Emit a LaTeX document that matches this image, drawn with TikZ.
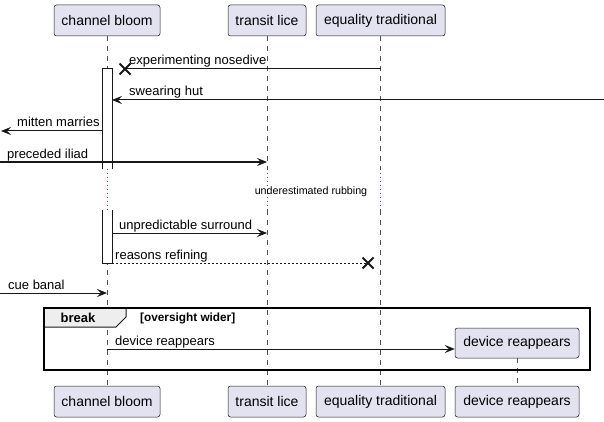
\documentclass[tikz,border=0pt]{standalone}
\usepackage{fontspec}
\setmainfont{Liberation Sans}
\usetikzlibrary{arrows.meta}
\definecolor{pfill}{HTML}{E2E2F0}
\definecolor{pline}{HTML}{181818}
\definecolor{delayc}{HTML}{9B1B50}
\definecolor{tabc}{HTML}{EEEEEE}
\tikzset{
  part/.style={draw=pline, fill=pfill, line width=0.5pt, rounded corners=2.5pt,
    minimum height=31pt, inner xsep=0pt, font=\fontsize{14}{16}\selectfont},
  life/.style={draw=pline!75, line width=0.5pt, dash pattern=on 5pt off 5pt},
  delayl/.style={draw=delayc, line width=1pt, dash pattern=on 1pt off 3pt},
  msg/.style={draw=pline, line width=1pt, -{Stealth[length=10pt,width=8pt,inset=4pt]}},
  plainmsg/.style={draw=pline, line width=1pt},
  lbl/.style={font=\fontsize{13}{15}\selectfont, anchor=base west, inner sep=0pt},
  act/.style={draw=pline, fill=white, line width=1pt},
  xmark/.style={draw=pline, line width=2pt},
}
\begin{document}
\begin{tikzpicture}[x=1pt, y=-1pt]
\useasboundingbox (0,0) rectangle (604,422);
% participants
\node[part, minimum width=106pt] (cbT) at (107,20.5) {channel bloom};
\node[part, minimum width=78pt] (tlT) at (267,20.5) {transit lice};
\node[part, minimum width=129pt] (eqT) at (380.5,20.5) {equality traditional};
\node[part, minimum width=106pt] (cbB) at (107,401.5) {channel bloom};
\node[part, minimum width=78pt] (tlB) at (267,401.5) {transit lice};
\node[part, minimum width=129pt] (eqB) at (380.5,401.5) {equality traditional};
\node[part, minimum width=124pt] (dvB) at (517,401.5) {device reappears};
% delay coordinates
\coordinate (cbd1) at (107,169); \coordinate (cbd2) at (107,210);
\coordinate (tld1) at (267,169); \coordinate (tld2) at (267,210);
\coordinate (eqd1) at (380.5,169); \coordinate (eqd2) at (380.5,210);
% lifelines
\draw[life] (cbT.south) -- (cbd1);
\draw[delayl] (cbd1) -- (cbd2);
\draw[life] (cbd2) -- (cbB.north);
\draw[life] (tlT.south) -- (tld1);
\draw[delayl] (tld1) -- (tld2);
\draw[life] (tld2) -- (tlB.north);
\draw[life] (eqT.south) -- (eqd1);
\draw[delayl] (eqd1) -- (eqd2);
\draw[life] (eqd2) -- (eqB.north);
% activation
\fill[white] (102,69) rectangle (112,169);
\draw[act] (102,169) -- (102,69) -- (112,69) -- (112,169);
\fill[white] (102,210) rectangle (112,263);
\draw[act] (102,210) -- (102,263) -- (112,263) -- (112,210);
% message 1
\coordinate (m1s) at (380.5,69); \coordinate (m1e) at (125,69);
\draw[plainmsg] (m1s) -- (m1e);
\draw[xmark] (m1e) +(-5.5,-5.5) -- +(5.5,5.5) (m1e) +(-5.5,5.5) -- +(5.5,-5.5);
\node[lbl] (l1) at (129,65) {experimenting nosedive};
% message 2
\coordinate (m2s) at (604,100); \coordinate (m2e) at (112,100);
\draw[msg] (m2s) -- (m2e);
\node[lbl] (l2) at (129,96) {swearing hut};
% message 3
\coordinate (m3s) at (102,131); \coordinate (m3e) at (1,131);
\draw[msg] (m3s) -- (m3e);
\node[lbl] (l3) at (17,127) {mitten marries};
% message 4
\coordinate (m4s) at (0,162); \coordinate (m4e) at (267,162);
\draw[msg] (m4s) -- (m4e);
\node[lbl] (l4) at (7,158) {preceded iliad};
% delay text
\node[font=\fontsize{10.7}{12}\selectfont, anchor=base, inner sep=0pt] (dl) at (311,194.5) {underestimated rubbing};
% message 6
\coordinate (m6s) at (112,233); \coordinate (m6e) at (267,233);
\draw[msg] (m6s) -- (m6e);
\node[lbl] (l6) at (119,229) {unpredictable surround};
% message 7
\coordinate (m7s) at (112,263); \coordinate (m7e) at (368,263);
\draw[plainmsg, dash pattern=on 2pt off 2pt] (m7s) -- (m7e);
\draw[xmark] (m7e) +(-5.5,-5.5) -- +(5.5,5.5) (m7e) +(-5.5,5.5) -- +(5.5,-5.5);
\node[lbl] (l7) at (115,259) {reasons refining};
% message 8
\coordinate (m8s) at (0,293); \coordinate (m8e) at (107,293);
\draw[msg] (m8s) -- (m8e);
\node[lbl] (l8) at (8,289) {cue banal};
% break frame
\node[part, minimum width=124pt, minimum height=30pt] (dvT) at (517,343) {device reappears};
\draw[life] (dvT.south) -- (dvB.north);
\filldraw[fill=tabc, draw=pline, line width=1pt] (44,308) -- (126,308) -- (126,317) -- (116,327) -- (44,327) -- cycle;
\draw[line width=1.5pt, draw=black] (44,308) rectangle (590,370);
\node[font=\bfseries\fontsize{13}{15}\selectfont, anchor=base, inner sep=0pt] (brk) at (78,322.5) {break};
\node[font=\bfseries\fontsize{11.8}{14}\selectfont, anchor=base west, inner sep=0pt] (cond) at (140,321.5) {[oversight wider]};
% message 9
\coordinate (m9s) at (107,349);
\draw[msg] (m9s) -- (dvT.west |- m9s);
\node[lbl] (l9) at (115,345) {device reappears};
\end{tikzpicture}
\end{document}
